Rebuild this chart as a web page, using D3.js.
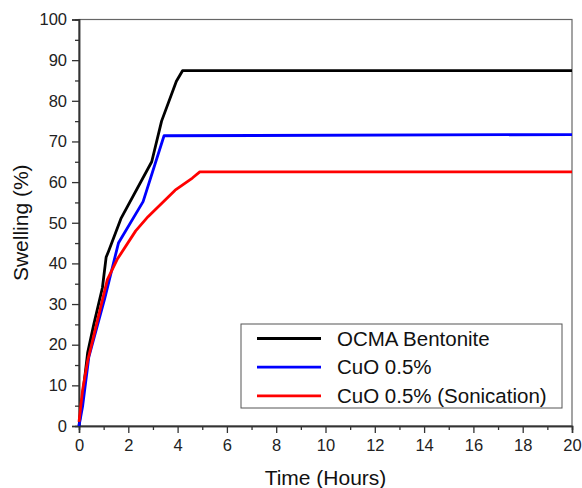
<!DOCTYPE html>
<html>
<head>
<meta charset="utf-8">
<script src="https://cdn.jsdelivr.net/npm/d3@7"></script>
<style>
  html, body { margin: 0; padding: 0; background: #fff; }
  svg { display: block; font-family: "Liberation Sans", Arial, sans-serif; }
</style>
</head>
<body>
<div id="chart"></div>
<script>
// swelling (%) over time (hours)
const seriesNames = ['OCMA Bentonite', 'CuO 0.5%', 'CuO 0.5% (Sonication)'];
const seriesColors = ['#000000', '#0000ff', '#ff0000'];

const ocmaBentonite = [
  [0, 0], [0.35, 18], [0.6, 25], [0.95, 34], [1.1, 41.5], [1.2, 43],
  [1.7, 51], [2.95, 65], [3.35, 75], [3.95, 84.8], [4.2, 87.4], [20, 87.4]
];
const cuo05 = [
  [0, 0], [0.15, 5], [0.4, 17], [1.05, 31.5], [1.6, 45], [2.6, 55.2],
  [3.45, 71.4], [20, 71.7]
];
const cuo05Sonication = [
  [0, 1], [0.15, 9], [0.35, 16], [0.75, 26], [1.15, 36], [1.55, 41],
  [2.3, 48], [2.8, 51.5], [3.9, 58], [4.6, 61], [4.9, 62.5], [20, 62.5]
];
const allSeries = [ocmaBentonite, cuo05, cuo05Sonication];

const xTicks = d3.range(0, 21, 2);
const yTicks = d3.range(0, 101, 10);

const width = 582, height = 488;
const margin = { top: 19.5, right: 10, bottom: 62, left: 79 };

const svg = d3.select('#chart').append('svg')
  .attr('width', width)
  .attr('height', height);

const x = d3.scaleLinear().domain([0, 20]).range([margin.left, width - margin.right]);
const y = d3.scaleLinear().domain([0, 100]).range([height - margin.bottom, margin.top]);

const axisColor = '#333';

// frame
svg.append('rect')
  .attr('x', x(0)).attr('y', y(100))
  .attr('width', x(20) - x(0)).attr('height', y(0) - y(100))
  .attr('fill', 'none')
  .attr('stroke', '#666')
  .attr('stroke-width', 1.2);

// minor ticks
const xMinor = svg.append('g')
  .attr('transform', `translate(0,${y(0)})`)
  .call(d3.axisBottom(x).tickValues(d3.range(1, 20, 2)).tickSize(4).tickFormat(''));
const yMinor = svg.append('g')
  .attr('transform', `translate(${x(0)},0)`)
  .call(d3.axisLeft(y).tickValues(d3.range(5, 100, 10)).tickSize(4).tickFormat(''));

// major axes
const xAxis = svg.append('g')
  .attr('transform', `translate(0,${y(0)})`)
  .call(d3.axisBottom(x).tickValues(xTicks).tickSize(7).tickPadding(6).tickFormat(d3.format('d')));
const yAxis = svg.append('g')
  .attr('transform', `translate(${x(0)},0)`)
  .call(d3.axisLeft(y).tickValues(yTicks).tickSize(7).tickPadding(5).tickFormat(d3.format('d')));

[xMinor, yMinor, xAxis, yAxis].forEach(g => {
  g.select('.domain').attr('stroke', axisColor).attr('stroke-width', 1.5);
  g.selectAll('.tick line').attr('stroke', axisColor).attr('stroke-width', 1.3);
  g.selectAll('.tick text')
    .attr('fill', '#222')
    .style('font-size', '16.5px')
    .style('font-family', '"Liberation Sans", Arial, sans-serif');
});

// axis titles
svg.append('text')
  .attr('x', x(10)).attr('y', 485)
  .attr('text-anchor', 'middle')
  .attr('fill', '#111')
  .style('font-size', '21px')
  .text('Time (Hours)');

svg.append('text')
  .attr('transform', `translate(28,${(y(0) + y(100)) / 2}) rotate(-90)`)
  .attr('text-anchor', 'middle')
  .attr('fill', '#111')
  .style('font-size', '21px')
  .text('Swelling (%)');

// lines
const line = d3.line().x(d => x(d[0])).y(d => y(d[1]));
svg.append('g')
  .selectAll('path')
  .data(allSeries)
  .join('path')
  .attr('d', line)
  .attr('fill', 'none')
  .attr('stroke', (d, i) => seriesColors[i])
  .attr('stroke-width', 2.8)
  .attr('stroke-linejoin', 'round');

// legend
const legend = svg.append('g');
legend.append('rect')
  .attr('x', 241).attr('y', 324)
  .attr('width', 321).attr('height', 84)
  .attr('fill', '#fff')
  .attr('stroke', '#555')
  .attr('stroke-width', 1);

const items = legend.selectAll('g.item')
  .data(seriesNames)
  .join('g')
  .attr('class', 'item')
  .attr('transform', (d, i) => `translate(0,${338.5 + i * 28.7})`);

items.append('line')
  .attr('x1', 257).attr('x2', 321)
  .attr('stroke', (d, i) => seriesColors[i])
  .attr('stroke-width', 2.8);

items.append('text')
  .attr('x', 337)
  .attr('dy', '0.35em')
  .attr('fill', '#111')
  .style('font-size', '20.5px')
  .text(d => d);
</script>
</body>
</html>
